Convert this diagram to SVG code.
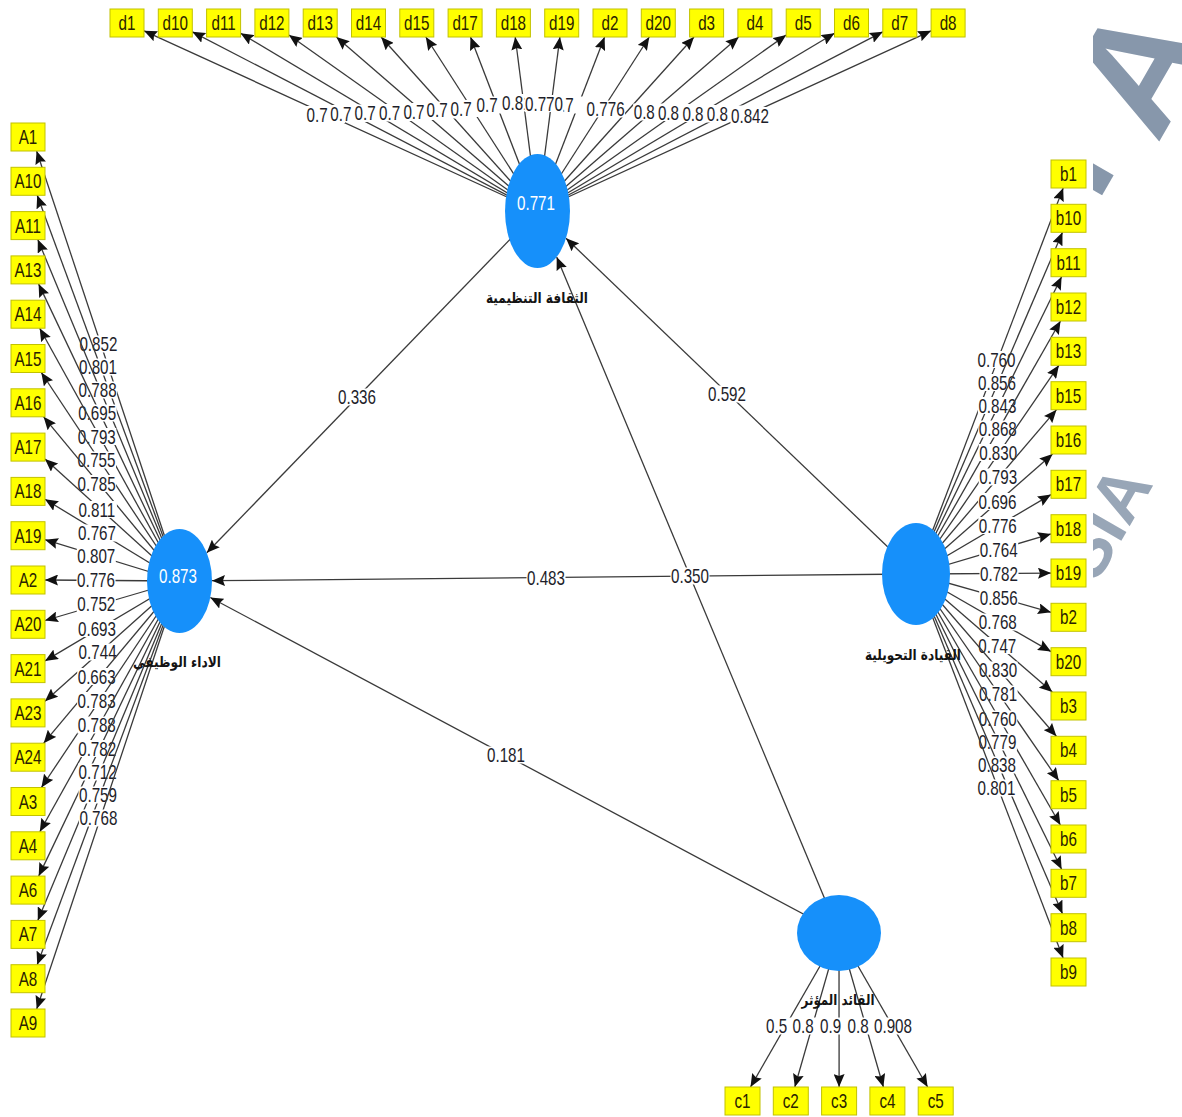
<svg xmlns="http://www.w3.org/2000/svg" width="1182" height="1117" viewBox="0 0 1182 1117">
<defs>
<style>
.ln{stroke:#3a3a3a;stroke-width:1.3;fill:none;marker-end:url(#ah)}
.bg{fill:#fff}
.v{font-family:"Liberation Sans",Arial,sans-serif;font-size:20px;fill:#1e1e2a}
.ind rect{fill:#ffff00;stroke:#c2c200;stroke-width:1}
.ind text{font-family:"Liberation Sans",Arial,sans-serif;font-size:20px;fill:#2a2200;text-anchor:middle}
.lv ellipse{fill:#1690fa}
.lv .r2{font-family:"Liberation Sans",Arial,sans-serif;font-size:20px;fill:#fff;text-anchor:middle}
.ar{font-family:"DejaVu Sans","Noto Sans",sans-serif;font-weight:bold;font-size:15px;fill:#141414;text-anchor:middle}
.wm{font-family:"Liberation Sans",Arial,sans-serif;font-weight:bold;fill:#8797ab}
</style>
<marker id="ah" markerUnits="userSpaceOnUse" markerWidth="14" markerHeight="11" refX="13" refY="5.5" orient="auto">
<path d="M0,0 L13,5.5 L0,11 L2,5.5 z" fill="#111"/>
</marker>
<clipPath id="wmclip"><rect x="1093" y="0" width="89" height="1117"/></clipPath>
</defs>
<rect width="1182" height="1117" fill="#fff"/>

<!-- watermark lettering at the right margin -->
<g id="watermark" clip-path="url(#wmclip)">
<text class="wm" font-size="160" text-anchor="end" transform="translate(1215,45) rotate(-60)">A</text>
<text class="wm" font-size="160" transform="translate(1096.8,204.4) rotate(-60)">I</text>
<text class="wm" font-size="70" opacity="0.85" text-anchor="end" transform="translate(1154,484) rotate(-60)">SIA</text>
</g>

<g id="connectors">
<!-- structural paths -->
<line class="ln" x1="537.5" y1="211" x2="206.8" y2="552.8"/>
<rect class="bg" x="337.5" y="388.5" width="39" height="17"/><text class="v" transform="matrix(.76 0 0 1 338 404)">0.336</text>
<line class="ln" x1="916" y1="574" x2="566" y2="238.3"/>
<rect class="bg" x="707.5" y="385.5" width="39" height="17"/><text class="v" transform="matrix(.76 0 0 1 708 401)">0.592</text>
<line class="ln" x1="916" y1="574" x2="212" y2="580.7"/>
<rect class="bg" x="526.5" y="569.5" width="39" height="17"/><text class="v" transform="matrix(.76 0 0 1 527 585)">0.483</text>
<line class="ln" x1="839" y1="933" x2="556.7" y2="257"/>
<rect class="bg" x="670.5" y="567.5" width="39" height="17"/><text class="v" transform="matrix(.76 0 0 1 671 583)">0.350</text>
<line class="ln" x1="839" y1="933" x2="210.3" y2="597.5"/>
<rect class="bg" x="486.5" y="746.5" width="39" height="17"/><text class="v" transform="matrix(.76 0 0 1 487 762)">0.181</text>

<!-- outer loadings: organisational culture -->
<line class="ln" x1="537.5" y1="211" x2="144" y2="30.8"/>
<rect class="bg" x="306" y="106" width="39" height="17"/><text class="v" transform="matrix(.76 0 0 1 306.5 121.5)">0.7</text>
<line class="ln" x1="537.5" y1="211" x2="192.3" y2="31.8"/>
<rect class="bg" x="329.8" y="105" width="39" height="17"/><text class="v" transform="matrix(.76 0 0 1 330.3 120.5)">0.7</text>
<line class="ln" x1="537.5" y1="211" x2="240.6" y2="33.2"/>
<rect class="bg" x="354.1" y="104.5" width="39" height="17"/><text class="v" transform="matrix(.76 0 0 1 354.6 120)">0.7</text>
<line class="ln" x1="537.5" y1="211" x2="288.9" y2="35"/>
<rect class="bg" x="378.6" y="104" width="39" height="17"/><text class="v" transform="matrix(.76 0 0 1 379.1 119.5)">0.7</text>
<line class="ln" x1="537.5" y1="211" x2="336.4" y2="37"/>
<rect class="bg" x="402.9" y="103" width="39" height="17"/><text class="v" transform="matrix(.76 0 0 1 403.4 118.5)">0.7</text>
<line class="ln" x1="537.5" y1="211" x2="381.1" y2="37"/>
<rect class="bg" x="426.1" y="101.5" width="39" height="17"/><text class="v" transform="matrix(.76 0 0 1 426.6 117)">0.7</text>
<line class="ln" x1="537.5" y1="211" x2="425.8" y2="37"/>
<rect class="bg" x="450" y="100" width="39" height="17"/><text class="v" transform="matrix(.76 0 0 1 450.5 115.5)">0.7</text>
<line class="ln" x1="537.5" y1="211" x2="470.5" y2="37"/>
<rect class="bg" x="476" y="96.5" width="39" height="17"/><text class="v" transform="matrix(.76 0 0 1 476.5 112)">0.7</text>
<line class="ln" x1="537.5" y1="211" x2="515.2" y2="37"/>
<rect class="bg" x="501.5" y="94" width="39" height="17"/><text class="v" transform="matrix(.76 0 0 1 502 109.5)">0.81</text>
<line class="ln" x1="537.5" y1="211" x2="604.6" y2="37"/>
<rect class="bg" x="552" y="96.5" width="39" height="17"/><text class="v" transform="matrix(.76 0 0 1 552.5 112)">0.7</text>
<line class="ln" x1="537.5" y1="211" x2="559.9" y2="37"/>
<rect class="bg" x="524.5" y="95" width="39" height="17"/><text class="v" transform="matrix(.76 0 0 1 525 110.5)">0.770</text>
<line class="ln" x1="537.5" y1="211" x2="694" y2="37"/>
<line class="ln" x1="537.5" y1="211" x2="649.3" y2="37"/>
<rect class="bg" x="586.1" y="100.5" width="39" height="17"/><text class="v" transform="matrix(.76 0 0 1 586.6 116)">0.776</text>
<line class="ln" x1="537.5" y1="211" x2="738.7" y2="37"/>
<rect class="bg" x="633.2" y="103.5" width="39" height="17"/><text class="v" transform="matrix(.76 0 0 1 633.7 119)">0.8</text>
<line class="ln" x1="537.5" y1="211" x2="786.2" y2="35"/>
<rect class="bg" x="657.4" y="104" width="39" height="17"/><text class="v" transform="matrix(.76 0 0 1 657.9 119.5)">0.8</text>
<line class="ln" x1="537.5" y1="211" x2="834.5" y2="33.2"/>
<rect class="bg" x="681.9" y="105" width="39" height="17"/><text class="v" transform="matrix(.76 0 0 1 682.4 120.5)">0.8</text>
<line class="ln" x1="537.5" y1="211" x2="882.8" y2="31.8"/>
<rect class="bg" x="706.3" y="105.5" width="39" height="17"/><text class="v" transform="matrix(.76 0 0 1 706.8 121)">0.8</text>
<line class="ln" x1="537.5" y1="211" x2="931.1" y2="30.8"/>
<rect class="bg" x="730.5" y="107" width="39" height="17"/><text class="v" transform="matrix(.76 0 0 1 731 122.5)">0.842</text>

<!-- outer loadings: job performance -->
<line class="ln" x1="179.5" y1="581" x2="36.6" y2="151"/>
<rect class="bg" x="78.9" y="335.5" width="39" height="17"/><text class="v" transform="matrix(.76 0 0 1 79.4 351)">0.852</text>
<line class="ln" x1="179.5" y1="581" x2="37.2" y2="195.3"/>
<rect class="bg" x="78.5" y="358.5" width="39" height="17"/><text class="v" transform="matrix(.76 0 0 1 79 374)">0.801</text>
<line class="ln" x1="179.5" y1="581" x2="37.8" y2="239.6"/>
<rect class="bg" x="78.1" y="381.5" width="39" height="17"/><text class="v" transform="matrix(.76 0 0 1 78.6 397)">0.788</text>
<line class="ln" x1="179.5" y1="581" x2="38.6" y2="283.9"/>
<rect class="bg" x="77.7" y="404.5" width="39" height="17"/><text class="v" transform="matrix(.76 0 0 1 78.2 420)">0.695</text>
<line class="ln" x1="179.5" y1="581" x2="39.7" y2="328.2"/>
<rect class="bg" x="77.3" y="428" width="39" height="17"/><text class="v" transform="matrix(.76 0 0 1 77.8 443.5)">0.793</text>
<line class="ln" x1="179.5" y1="581" x2="41.3" y2="372.5"/>
<rect class="bg" x="77" y="451.5" width="39" height="17"/><text class="v" transform="matrix(.76 0 0 1 77.5 467)">0.755</text>
<line class="ln" x1="179.5" y1="581" x2="43.6" y2="416.8"/>
<rect class="bg" x="77.1" y="475" width="39" height="17"/><text class="v" transform="matrix(.76 0 0 1 77.6 490.5)">0.785</text>
<line class="ln" x1="179.5" y1="581" x2="45" y2="458.9"/>
<rect class="bg" x="77.9" y="501" width="39" height="17"/><text class="v" transform="matrix(.76 0 0 1 78.4 516.5)">0.811</text>
<line class="ln" x1="179.5" y1="581" x2="45" y2="499.3"/>
<rect class="bg" x="77.5" y="524.5" width="39" height="17"/><text class="v" transform="matrix(.76 0 0 1 78 540)">0.767</text>
<line class="ln" x1="179.5" y1="581" x2="45" y2="539.7"/>
<rect class="bg" x="76.8" y="547.5" width="39" height="17"/><text class="v" transform="matrix(.76 0 0 1 77.3 563)">0.807</text>
<line class="ln" x1="179.5" y1="581" x2="45" y2="580"/>
<rect class="bg" x="76.5" y="571.5" width="39" height="17"/><text class="v" transform="matrix(.76 0 0 1 77 587)">0.776</text>
<line class="ln" x1="179.5" y1="581" x2="45" y2="620.5"/>
<rect class="bg" x="76.8" y="595.5" width="39" height="17"/><text class="v" transform="matrix(.76 0 0 1 77.3 611)">0.752</text>
<line class="ln" x1="179.5" y1="581" x2="45" y2="660.9"/>
<rect class="bg" x="77.5" y="620" width="39" height="17"/><text class="v" transform="matrix(.76 0 0 1 78 635.5)">0.693</text>
<line class="ln" x1="179.5" y1="581" x2="45" y2="701.3"/>
<rect class="bg" x="78.1" y="643.5" width="39" height="17"/><text class="v" transform="matrix(.76 0 0 1 78.6 659)">0.744</text>
<line class="ln" x1="179.5" y1="581" x2="43.7" y2="743.2"/>
<rect class="bg" x="77.2" y="668" width="39" height="17"/><text class="v" transform="matrix(.76 0 0 1 77.7 683.5)">0.663</text>
<line class="ln" x1="179.5" y1="581" x2="41.4" y2="787.5"/>
<rect class="bg" x="77.1" y="692" width="39" height="17"/><text class="v" transform="matrix(.76 0 0 1 77.6 707.5)">0.783</text>
<line class="ln" x1="179.5" y1="581" x2="39.8" y2="831.8"/>
<rect class="bg" x="77.3" y="716.5" width="39" height="17"/><text class="v" transform="matrix(.76 0 0 1 77.8 732)">0.788</text>
<line class="ln" x1="179.5" y1="581" x2="38.7" y2="876.1"/>
<rect class="bg" x="77.7" y="740" width="39" height="17"/><text class="v" transform="matrix(.76 0 0 1 78.2 755.5)">0.782</text>
<line class="ln" x1="179.5" y1="581" x2="37.8" y2="920.4"/>
<rect class="bg" x="78.1" y="763.5" width="39" height="17"/><text class="v" transform="matrix(.76 0 0 1 78.6 779)">0.712</text>
<line class="ln" x1="179.5" y1="581" x2="37.2" y2="964.7"/>
<rect class="bg" x="78.5" y="786.5" width="39" height="17"/><text class="v" transform="matrix(.76 0 0 1 79 802)">0.759</text>
<line class="ln" x1="179.5" y1="581" x2="36.7" y2="1009"/>
<rect class="bg" x="78.9" y="809.5" width="39" height="17"/><text class="v" transform="matrix(.76 0 0 1 79.4 825)">0.768</text>

<!-- outer loadings: transformational leadership -->
<line class="ln" x1="916" y1="574" x2="1063.2" y2="188"/>
<rect class="bg" x="977" y="351" width="39" height="17"/><text class="v" transform="matrix(.76 0 0 1 977.5 366.5)">0.760</text>
<line class="ln" x1="916" y1="574" x2="1062.5" y2="232.3"/>
<rect class="bg" x="977.5" y="374" width="39" height="17"/><text class="v" transform="matrix(.76 0 0 1 978 389.5)">0.856</text>
<line class="ln" x1="916" y1="574" x2="1061.6" y2="276.7"/>
<rect class="bg" x="977.9" y="397" width="39" height="17"/><text class="v" transform="matrix(.76 0 0 1 978.4 412.5)">0.843</text>
<line class="ln" x1="916" y1="574" x2="1060.5" y2="321"/>
<rect class="bg" x="978.3" y="420.5" width="39" height="17"/><text class="v" transform="matrix(.76 0 0 1 978.8 436)">0.868</text>
<line class="ln" x1="916" y1="574" x2="1058.9" y2="365.3"/>
<rect class="bg" x="978.7" y="444" width="39" height="17"/><text class="v" transform="matrix(.76 0 0 1 979.2 459.5)">0.830</text>
<line class="ln" x1="916" y1="574" x2="1056.5" y2="409.7"/>
<rect class="bg" x="978.7" y="468.5" width="39" height="17"/><text class="v" transform="matrix(.76 0 0 1 979.2 484)">0.793</text>
<line class="ln" x1="916" y1="574" x2="1052.6" y2="454"/>
<rect class="bg" x="978" y="493" width="39" height="17"/><text class="v" transform="matrix(.76 0 0 1 978.5 508.5)">0.696</text>
<line class="ln" x1="916" y1="574" x2="1051" y2="494.6"/>
<rect class="bg" x="978.3" y="517" width="39" height="17"/><text class="v" transform="matrix(.76 0 0 1 978.8 532.5)">0.776</text>
<line class="ln" x1="916" y1="574" x2="1051" y2="533.9"/>
<rect class="bg" x="979.2" y="541" width="39" height="17"/><text class="v" transform="matrix(.76 0 0 1 979.7 556.5)">0.764</text>
<line class="ln" x1="916" y1="574" x2="1051" y2="573.1"/>
<rect class="bg" x="979.5" y="565.5" width="39" height="17"/><text class="v" transform="matrix(.76 0 0 1 980 581)">0.782</text>
<line class="ln" x1="916" y1="574" x2="1051" y2="612.3"/>
<rect class="bg" x="979.2" y="589.5" width="39" height="17"/><text class="v" transform="matrix(.76 0 0 1 979.7 605)">0.856</text>
<line class="ln" x1="916" y1="574" x2="1051" y2="651.6"/>
<rect class="bg" x="978.3" y="613.5" width="39" height="17"/><text class="v" transform="matrix(.76 0 0 1 978.8 629)">0.768</text>
<line class="ln" x1="916" y1="574" x2="1052.3" y2="692"/>
<rect class="bg" x="977.8" y="637" width="39" height="17"/><text class="v" transform="matrix(.76 0 0 1 978.3 652.5)">0.747</text>
<line class="ln" x1="916" y1="574" x2="1056.4" y2="736.3"/>
<rect class="bg" x="978.6" y="661.5" width="39" height="17"/><text class="v" transform="matrix(.76 0 0 1 979.1 677)">0.830</text>
<line class="ln" x1="916" y1="574" x2="1058.8" y2="780.7"/>
<rect class="bg" x="978.6" y="685.5" width="39" height="17"/><text class="v" transform="matrix(.76 0 0 1 979.1 701)">0.781</text>
<line class="ln" x1="916" y1="574" x2="1060.4" y2="825"/>
<rect class="bg" x="978.3" y="710.5" width="39" height="17"/><text class="v" transform="matrix(.76 0 0 1 978.8 726)">0.760</text>
<line class="ln" x1="916" y1="574" x2="1061.6" y2="869.3"/>
<rect class="bg" x="977.9" y="733.5" width="39" height="17"/><text class="v" transform="matrix(.76 0 0 1 978.4 749)">0.779</text>
<line class="ln" x1="916" y1="574" x2="1062.5" y2="913.7"/>
<rect class="bg" x="977.5" y="756.5" width="39" height="17"/><text class="v" transform="matrix(.76 0 0 1 978 772)">0.838</text>
<line class="ln" x1="916" y1="574" x2="1063.1" y2="958"/>
<rect class="bg" x="977" y="779.5" width="39" height="17"/><text class="v" transform="matrix(.76 0 0 1 977.5 795)">0.801</text>

<!-- outer loadings: influential leader -->
<line class="ln" x1="839" y1="933" x2="750.5" y2="1087"/>
<rect class="bg" x="765.5" y="1017.5" width="39" height="17"/><text class="v" transform="matrix(.76 0 0 1 766 1033)">0.5</text>
<line class="ln" x1="839" y1="933" x2="794.8" y2="1087"/>
<rect class="bg" x="792.1" y="1017.5" width="39" height="17"/><text class="v" transform="matrix(.76 0 0 1 792.6 1033)">0.8</text>
<line class="ln" x1="839" y1="933" x2="839.1" y2="1087"/>
<rect class="bg" x="819.5" y="1017.5" width="39" height="17"/><text class="v" transform="matrix(.76 0 0 1 820 1033)">0.9</text>
<line class="ln" x1="839" y1="933" x2="883.4" y2="1087"/>
<rect class="bg" x="847" y="1017.5" width="39" height="17"/><text class="v" transform="matrix(.76 0 0 1 847.5 1033)">0.8</text>
<line class="ln" x1="839" y1="933" x2="927.6" y2="1087"/>
<rect class="bg" x="873.5" y="1017.5" width="39" height="17"/><text class="v" transform="matrix(.76 0 0 1 874 1033)">0.908</text>
</g>

<!-- latent variables -->
<g id="culture" class="lv">
<ellipse cx="537.5" cy="211" rx="32.5" ry="57"/>
<text class="r2" transform="matrix(.76 0 0 1 536 210)">0.771</text>
<text class="ar" x="537" y="303" textLength="102" lengthAdjust="spacingAndGlyphs">الثقافة التنظيمية</text>
</g>
<g id="performance" class="lv">
<ellipse cx="179.5" cy="581" rx="32.5" ry="52"/>
<text class="r2" transform="matrix(.76 0 0 1 178 583)">0.873</text>
<text class="ar" x="177" y="667" textLength="88" lengthAdjust="spacingAndGlyphs">الاداء الوظيفي</text>
</g>
<g id="transformational" class="lv">
<ellipse cx="916" cy="574" rx="34" ry="51"/>
<text class="ar" x="913" y="660" textLength="96" lengthAdjust="spacingAndGlyphs">القيادة التحويلية</text>
</g>
<g id="influential" class="lv">
<ellipse cx="839" cy="933" rx="42" ry="38"/>
<text class="ar" x="838" y="1005" textLength="73" lengthAdjust="spacingAndGlyphs">القائد المؤثر</text>
</g>

<!-- indicators: organisational culture -->
<g id="d1" class="ind"><rect x="110" y="9" width="34" height="28"/><text transform="matrix(.76 0 0 1 127 30)">d1</text></g>
<g id="d10" class="ind"><rect x="158.3" y="9" width="34" height="28"/><text transform="matrix(.76 0 0 1 175.3 30)">d10</text></g>
<g id="d11" class="ind"><rect x="206.6" y="9" width="34" height="28"/><text transform="matrix(.76 0 0 1 223.6 30)">d11</text></g>
<g id="d12" class="ind"><rect x="254.9" y="9" width="34" height="28"/><text transform="matrix(.76 0 0 1 271.9 30)">d12</text></g>
<g id="d13" class="ind"><rect x="303.2" y="9" width="34" height="28"/><text transform="matrix(.76 0 0 1 320.2 30)">d13</text></g>
<g id="d14" class="ind"><rect x="351.5" y="9" width="34" height="28"/><text transform="matrix(.76 0 0 1 368.5 30)">d14</text></g>
<g id="d15" class="ind"><rect x="399.8" y="9" width="34" height="28"/><text transform="matrix(.76 0 0 1 416.8 30)">d15</text></g>
<g id="d17" class="ind"><rect x="448.1" y="9" width="34" height="28"/><text transform="matrix(.76 0 0 1 465.1 30)">d17</text></g>
<g id="d18" class="ind"><rect x="496.4" y="9" width="34" height="28"/><text transform="matrix(.76 0 0 1 513.4 30)">d18</text></g>
<g id="d19" class="ind"><rect x="544.7" y="9" width="34" height="28"/><text transform="matrix(.76 0 0 1 561.7 30)">d19</text></g>
<g id="d2" class="ind"><rect x="593" y="9" width="34" height="28"/><text transform="matrix(.76 0 0 1 610 30)">d2</text></g>
<g id="d20" class="ind"><rect x="641.3" y="9" width="34" height="28"/><text transform="matrix(.76 0 0 1 658.3 30)">d20</text></g>
<g id="d3" class="ind"><rect x="689.6" y="9" width="34" height="28"/><text transform="matrix(.76 0 0 1 706.6 30)">d3</text></g>
<g id="d4" class="ind"><rect x="737.9" y="9" width="34" height="28"/><text transform="matrix(.76 0 0 1 754.9 30)">d4</text></g>
<g id="d5" class="ind"><rect x="786.2" y="9" width="34" height="28"/><text transform="matrix(.76 0 0 1 803.2 30)">d5</text></g>
<g id="d6" class="ind"><rect x="834.5" y="9" width="34" height="28"/><text transform="matrix(.76 0 0 1 851.5 30)">d6</text></g>
<g id="d7" class="ind"><rect x="882.8" y="9" width="34" height="28"/><text transform="matrix(.76 0 0 1 899.8 30)">d7</text></g>
<g id="d8" class="ind"><rect x="931.1" y="9" width="34" height="28"/><text transform="matrix(.76 0 0 1 948.1 30)">d8</text></g>

<!-- indicators: job performance -->
<g id="A1" class="ind"><rect x="11" y="123" width="34" height="28"/><text transform="matrix(.76 0 0 1 28 144)">A1</text></g>
<g id="A10" class="ind"><rect x="11" y="167.3" width="34" height="28"/><text transform="matrix(.76 0 0 1 28 188.3)">A10</text></g>
<g id="A11" class="ind"><rect x="11" y="211.6" width="34" height="28"/><text transform="matrix(.76 0 0 1 28 232.6)">A11</text></g>
<g id="A13" class="ind"><rect x="11" y="255.9" width="34" height="28"/><text transform="matrix(.76 0 0 1 28 276.9)">A13</text></g>
<g id="A14" class="ind"><rect x="11" y="300.2" width="34" height="28"/><text transform="matrix(.76 0 0 1 28 321.2)">A14</text></g>
<g id="A15" class="ind"><rect x="11" y="344.5" width="34" height="28"/><text transform="matrix(.76 0 0 1 28 365.5)">A15</text></g>
<g id="A16" class="ind"><rect x="11" y="388.8" width="34" height="28"/><text transform="matrix(.76 0 0 1 28 409.8)">A16</text></g>
<g id="A17" class="ind"><rect x="11" y="433.1" width="34" height="28"/><text transform="matrix(.76 0 0 1 28 454.1)">A17</text></g>
<g id="A18" class="ind"><rect x="11" y="477.4" width="34" height="28"/><text transform="matrix(.76 0 0 1 28 498.4)">A18</text></g>
<g id="A19" class="ind"><rect x="11" y="521.7" width="34" height="28"/><text transform="matrix(.76 0 0 1 28 542.7)">A19</text></g>
<g id="A2" class="ind"><rect x="11" y="566" width="34" height="28"/><text transform="matrix(.76 0 0 1 28 587)">A2</text></g>
<g id="A20" class="ind"><rect x="11" y="610.3" width="34" height="28"/><text transform="matrix(.76 0 0 1 28 631.3)">A20</text></g>
<g id="A21" class="ind"><rect x="11" y="654.6" width="34" height="28"/><text transform="matrix(.76 0 0 1 28 675.6)">A21</text></g>
<g id="A23" class="ind"><rect x="11" y="698.9" width="34" height="28"/><text transform="matrix(.76 0 0 1 28 719.9)">A23</text></g>
<g id="A24" class="ind"><rect x="11" y="743.2" width="34" height="28"/><text transform="matrix(.76 0 0 1 28 764.2)">A24</text></g>
<g id="A3" class="ind"><rect x="11" y="787.5" width="34" height="28"/><text transform="matrix(.76 0 0 1 28 808.5)">A3</text></g>
<g id="A4" class="ind"><rect x="11" y="831.8" width="34" height="28"/><text transform="matrix(.76 0 0 1 28 852.8)">A4</text></g>
<g id="A6" class="ind"><rect x="11" y="876.1" width="34" height="28"/><text transform="matrix(.76 0 0 1 28 897.1)">A6</text></g>
<g id="A7" class="ind"><rect x="11" y="920.4" width="34" height="28"/><text transform="matrix(.76 0 0 1 28 941.4)">A7</text></g>
<g id="A8" class="ind"><rect x="11" y="964.7" width="34" height="28"/><text transform="matrix(.76 0 0 1 28 985.7)">A8</text></g>
<g id="A9" class="ind"><rect x="11" y="1009" width="34" height="28"/><text transform="matrix(.76 0 0 1 28 1030)">A9</text></g>

<!-- indicators: transformational leadership -->
<g id="b1" class="ind"><rect x="1051" y="160" width="35" height="28"/><text transform="matrix(.76 0 0 1 1068.5 181)">b1</text></g>
<g id="b10" class="ind"><rect x="1051" y="204.3" width="35" height="28"/><text transform="matrix(.76 0 0 1 1068.5 225.3)">b10</text></g>
<g id="b11" class="ind"><rect x="1051" y="248.7" width="35" height="28"/><text transform="matrix(.76 0 0 1 1068.5 269.7)">b11</text></g>
<g id="b12" class="ind"><rect x="1051" y="293" width="35" height="28"/><text transform="matrix(.76 0 0 1 1068.5 314)">b12</text></g>
<g id="b13" class="ind"><rect x="1051" y="337.3" width="35" height="28"/><text transform="matrix(.76 0 0 1 1068.5 358.3)">b13</text></g>
<g id="b15" class="ind"><rect x="1051" y="381.7" width="35" height="28"/><text transform="matrix(.76 0 0 1 1068.5 402.7)">b15</text></g>
<g id="b16" class="ind"><rect x="1051" y="426" width="35" height="28"/><text transform="matrix(.76 0 0 1 1068.5 447)">b16</text></g>
<g id="b17" class="ind"><rect x="1051" y="470.3" width="35" height="28"/><text transform="matrix(.76 0 0 1 1068.5 491.3)">b17</text></g>
<g id="b18" class="ind"><rect x="1051" y="514.7" width="35" height="28"/><text transform="matrix(.76 0 0 1 1068.5 535.7)">b18</text></g>
<g id="b19" class="ind"><rect x="1051" y="559" width="35" height="28"/><text transform="matrix(.76 0 0 1 1068.5 580)">b19</text></g>
<g id="b2" class="ind"><rect x="1051" y="603.3" width="35" height="28"/><text transform="matrix(.76 0 0 1 1068.5 624.3)">b2</text></g>
<g id="b20" class="ind"><rect x="1051" y="647.7" width="35" height="28"/><text transform="matrix(.76 0 0 1 1068.5 668.7)">b20</text></g>
<g id="b3" class="ind"><rect x="1051" y="692" width="35" height="28"/><text transform="matrix(.76 0 0 1 1068.5 713)">b3</text></g>
<g id="b4" class="ind"><rect x="1051" y="736.3" width="35" height="28"/><text transform="matrix(.76 0 0 1 1068.5 757.3)">b4</text></g>
<g id="b5" class="ind"><rect x="1051" y="780.7" width="35" height="28"/><text transform="matrix(.76 0 0 1 1068.5 801.7)">b5</text></g>
<g id="b6" class="ind"><rect x="1051" y="825" width="35" height="28"/><text transform="matrix(.76 0 0 1 1068.5 846)">b6</text></g>
<g id="b7" class="ind"><rect x="1051" y="869.3" width="35" height="28"/><text transform="matrix(.76 0 0 1 1068.5 890.3)">b7</text></g>
<g id="b8" class="ind"><rect x="1051" y="913.7" width="35" height="28"/><text transform="matrix(.76 0 0 1 1068.5 934.7)">b8</text></g>
<g id="b9" class="ind"><rect x="1051" y="958" width="35" height="28"/><text transform="matrix(.76 0 0 1 1068.5 979)">b9</text></g>

<!-- indicators: influential leader -->
<g id="c1" class="ind"><rect x="725" y="1087" width="35" height="28"/><text transform="matrix(.76 0 0 1 742.5 1108)">c1</text></g>
<g id="c2" class="ind"><rect x="773.3" y="1087" width="35" height="28"/><text transform="matrix(.76 0 0 1 790.8 1108)">c2</text></g>
<g id="c3" class="ind"><rect x="821.6" y="1087" width="35" height="28"/><text transform="matrix(.76 0 0 1 839.1 1108)">c3</text></g>
<g id="c4" class="ind"><rect x="869.9" y="1087" width="35" height="28"/><text transform="matrix(.76 0 0 1 887.4 1108)">c4</text></g>
<g id="c5" class="ind"><rect x="918.2" y="1087" width="35" height="28"/><text transform="matrix(.76 0 0 1 935.7 1108)">c5</text></g>
</svg>
